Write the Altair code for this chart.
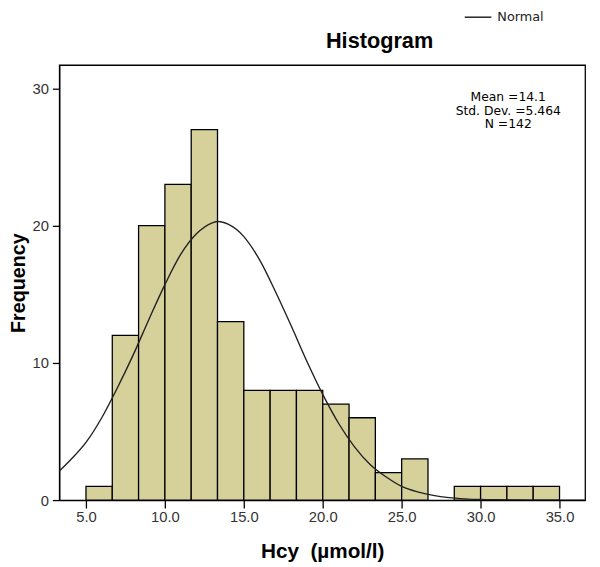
import altair as alt
import pandas as pd

# Histogram bins (Hcy, µmol/l) and frequencies
bin_start = [5.0, 6.667, 8.333, 10.0, 11.667, 13.333, 15.0, 16.667, 18.333,
             20.0, 21.667, 23.333, 25.0, 26.667, 28.333, 30.0, 31.667, 33.333]
bin_end = [6.667, 8.333, 10.0, 11.667, 13.333, 15.0, 16.667, 18.333, 20.0,
           21.667, 23.333, 25.0, 26.667, 28.333, 30.0, 31.667, 33.333, 35.0]
counts = [1, 12, 20, 23, 27, 13, 8, 8, 8, 7, 6, 2, 3, 0, 1, 1, 1, 1]

# Normal curve, values
curve_x = [3.3, 4, 5, 6, 7, 8, 9, 10, 11, 12, 13, 13.4, 14, 15, 16, 17, 18, 19,
           20, 21, 22, 23, 24, 25, 26, 27, 28, 29, 30, 31, 32, 33, 34, 35, 36.6]
curve_y = [2.1, 2.9, 4.2, 6.0, 8.2, 10.6, 13.2, 15.7, 17.9, 19.4, 20.2, 20.3, 20.1,
           19.2, 17.5, 15.2, 12.7, 10.1, 7.7, 5.6, 3.9, 2.6, 1.7, 1.0, 0.6, 0.34,
           0.18, 0.09, 0.04, 0.02, 0.01, 0.0, 0.0, 0.0, 0.0]

stats_lines = ["Mean =14.1", "Std. Dev. =5.464", "N =142"]
stats_pos = [31.75, 29.1]
title_text = ["Histogram"]
title_pos = [23.6, 32.95]

x_ticks = [5, 10, 15, 20, 25, 30, 35]
y_ticks = [0, 10, 20, 30]
x_domain = [3.31, 36.62]
y_domain = [0, 31.7]

bars = pd.DataFrame({"start": bin_start, "end": bin_end, "count": counts})
bars = bars[bars["count"] > 0]
curve = pd.DataFrame({"x": curve_x, "y": curve_y, "series": ["Normal"] * len(curve_x)})
stats = pd.DataFrame({"x": [stats_pos[0]], "y": [stats_pos[1]], "t": [stats_lines]})
ttl = pd.DataFrame({"x": [title_pos[0]], "y": [title_pos[1]], "t": title_text})

xscale = alt.Scale(domain=x_domain, nice=False, zero=False)
yscale = alt.Scale(domain=y_domain, nice=False)

xaxis = alt.Axis(values=x_ticks, format=".1f", title="Hcy\u00a0\u00a0(µmol/l)", grid=False,
                 tickSize=8, labelPadding=2, labelFontSize=15, labelColor="#333333",
                 labelFont="Liberation Sans", titleFont="Liberation Sans",
                 titleFontSize=21, titleFontWeight="bold", titleColor="black",
                 titleBaseline="alphabetic", titleY=58, titleX=266.5,
                 domainColor="black", tickColor="black", domainWidth=1.3, tickWidth=1.3)
yaxis = alt.Axis(values=y_ticks, format="d", title="Frequency", grid=False,
                 tickSize=7, labelPadding=4, labelFontSize=15, labelColor="#333333",
                 labelFont="Liberation Sans", titleFont="Liberation Sans",
                 titleFontSize=20, titleFontWeight="bold", titleColor="black",
                 titleBaseline="alphabetic", titleX=-35, titleY=220.5, titleAngle=-90,
                 titleAlign="center",
                 domainColor="black", tickColor="black", domainWidth=1.3, tickWidth=1.3)

hist = alt.Chart(bars).mark_rect(fill="#d6d09b", stroke="black", strokeWidth=1.3).encode(
    x=alt.X("start:Q", scale=xscale, axis=xaxis),
    x2="end:Q",
    y=alt.Y("count:Q", scale=yscale, axis=yaxis),
    y2=alt.datum(0),
)

line = alt.Chart(curve).mark_line(strokeWidth=1.4, interpolate="monotone", clip=True).encode(
    x=alt.X("x:Q", scale=xscale),
    y=alt.Y("y:Q", scale=yscale),
    color=alt.Color("series:N", scale=alt.Scale(domain=["Normal"], range=["#222222"]),
                    legend=alt.Legend(title=None, orient="none", legendX=410, legendY=-63,
                                      symbolType="stroke", symbolSize=729,
                                      symbolStrokeWidth=1.5, symbolStrokeColor="#555555",
                                      labelFont="DejaVu Sans", labelFontSize=13,
                                      labelColor="#222222", labelOffset=5, padding=0)),
)

text = alt.Chart(stats).mark_text(font="DejaVu Sans", fontSize=12.5, align="center",
                                  baseline="alphabetic", lineHeight=14, color="black").encode(
    x=alt.X("x:Q", scale=xscale),
    y=alt.Y("y:Q", scale=yscale),
    text="t",
)

title = alt.Chart(ttl).mark_text(font="Liberation Sans", fontSize=22, fontWeight="bold",
                                 align="center", baseline="alphabetic", color="black",
                                 clip=False).encode(
    x=alt.X("x:Q", scale=xscale),
    y=alt.Y("y:Q", scale=yscale),
    text="t:N",
)

chart = alt.layer(hist, line, text, title).properties(
    width=533, height=441,
    autosize=alt.AutoSizeParams(type="none"),
    padding={"left": 52, "top": 54, "right": 7, "bottom": 64},
).configure_view(stroke="black", strokeWidth=1.3)

chart.save("out.html", embed_options={"renderer": "svg", "actions": False})
